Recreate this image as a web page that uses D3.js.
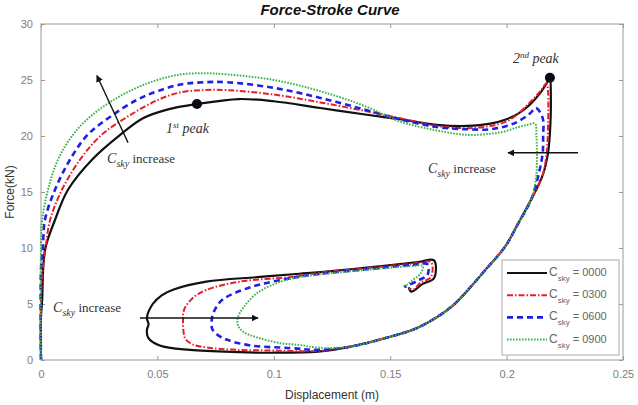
<!DOCTYPE html>
<html>
<head>
<meta charset="utf-8">
<script src="https://cdn.jsdelivr.net/npm/d3@7"></script>
<style>
  body { margin: 0; background: #fff; }
  svg { display: block; }
</style>
</head>
<body>
<div id="chart"></div>
<script>
// series: [displacement (m), force (kN)]
const descending = [
  [0.2105, 14.3], [0.2050, 12.2], [0.1993, 10.1], [0.1907, 8.0], [0.1834, 6.25],
  [0.176, 4.7], [0.162, 2.9], [0.148, 1.96], [0.133, 1.2]
];

const curveBlack = [
  [0, 0], [0, 3.8], [0.0005, 5.4], [0.0017, 9.8], [0.006, 12.5], [0.0116, 15.2],
  [0.022, 17.9], [0.034, 20.1], [0.044, 21.6], [0.055, 22.4], [0.067, 22.85],
  [0.085, 23.3], [0.1, 23.1], [0.12, 22.5], [0.14, 21.9], [0.154, 21.5],
  [0.17, 21.0], [0.183, 20.9], [0.193, 21.1], [0.2, 21.5], [0.205, 22.0],
  [0.21, 22.8], [0.2143, 23.8], [0.2175, 24.8], [0.2186, 25.2], [0.219, 23.5],
  [0.2188, 21.0], [0.2178, 18.5], [0.2155, 16.5],
  ...descending,
  [0.119, 0.75], [0.1, 0.65], [0.085, 0.7], [0.064, 0.9], [0.051, 1.3],
  [0.046, 2.0], [0.0455, 2.7], [0.0462, 3.2], [0.0455, 3.75], [0.048, 5.0],
  [0.052, 5.8], [0.057, 6.3], [0.071, 7.0], [0.093, 7.4], [0.111, 7.7],
  [0.12, 7.85], [0.14, 8.25], [0.162, 8.75], [0.1688, 8.9], [0.1688, 7.3],
  [0.164, 6.8], [0.159, 6.1], [0.158, 6.5]
];

const curveRed = [
  [0, 0], [0, 5.5], [0.0008, 8], [0.002, 10], [0.0039, 12.5], [0.009, 15.2],
  [0.0168, 17.9], [0.026, 20.1], [0.037, 21.7], [0.05, 23.2], [0.06, 23.9],
  [0.07, 24.1], [0.08, 24.1], [0.1, 23.7], [0.12, 23.0], [0.14, 22.2],
  [0.154, 21.6], [0.17, 20.9], [0.183, 20.7], [0.193, 20.9], [0.2, 21.3],
  [0.205, 22.0], [0.21, 23.0], [0.2145, 24.0], [0.2172, 24.7], [0.2178, 24.0],
  [0.2178, 21.0], [0.2172, 18.5], [0.2155, 16.5],
  ...descending,
  [0.119, 0.8], [0.1, 0.85], [0.085, 0.9], [0.072, 1.1], [0.065, 1.4],
  [0.062, 1.9], [0.0613, 2.4], [0.061, 3.5], [0.0615, 4.5], [0.065, 5.5],
  [0.071, 6.25], [0.0855, 7.0], [0.107, 7.4], [0.12, 7.8], [0.14, 8.2],
  [0.162, 8.65], [0.1675, 8.75], [0.1675, 7.4], [0.163, 6.9], [0.16, 6.3],
  [0.158, 6.4]
];

const curveBlue = [
  [0, 0], [0, 8], [0.0008, 10], [0.0017, 12.5], [0.006, 15.2], [0.0125, 17.9],
  [0.02, 20.1], [0.0296, 21.7], [0.041, 23.2], [0.05, 24.0], [0.06, 24.6],
  [0.07, 24.8], [0.08, 24.8], [0.1, 24.3], [0.12, 23.4], [0.14, 22.3],
  [0.154, 21.5], [0.17, 20.8], [0.183, 20.6], [0.193, 20.6], [0.2, 20.9],
  [0.205, 21.3], [0.21, 22.0], [0.2126, 22.5], [0.2155, 21.6], [0.2157, 20.0],
  [0.2155, 18.5], [0.214, 16.8],
  ...descending,
  [0.119, 0.9], [0.107, 1.07], [0.09, 1.3], [0.08, 1.8], [0.0755, 2.3],
  [0.0735, 2.8], [0.0735, 3.8], [0.075, 4.6], [0.078, 5.4], [0.09, 6.5],
  [0.107, 7.3], [0.12, 7.7], [0.14, 8.1], [0.16, 8.5], [0.166, 8.55],
  [0.166, 7.6], [0.162, 7.1], [0.157, 6.6], [0.156, 6.5]
];

const curveGreen = [
  [0, 0], [0, 10.5], [0.0005, 12.5], [0.003, 15.2], [0.0073, 17.9],
  [0.0137, 20.1], [0.021, 21.7], [0.031, 23.2], [0.041, 24.3], [0.05, 25.0],
  [0.06, 25.5], [0.07, 25.6], [0.08, 25.5], [0.1, 25.0], [0.12, 24.0],
  [0.14, 22.6], [0.154, 21.3], [0.17, 20.5], [0.183, 20.1], [0.193, 20.2],
  [0.199, 20.4], [0.205, 20.8], [0.209, 21.0], [0.2122, 21.1], [0.2128, 20.0],
  [0.213, 17.5], [0.2125, 16.0],
  ...descending,
  [0.119, 1.1], [0.111, 1.34], [0.103, 1.5], [0.093, 2.0], [0.087, 2.5],
  [0.0846, 3.1], [0.0846, 3.8], [0.087, 4.7], [0.093, 6.0], [0.103, 7.0],
  [0.111, 7.4], [0.12, 7.65], [0.14, 8.05], [0.16, 8.4], [0.164, 8.4],
  [0.163, 7.7], [0.16, 7.2], [0.157, 6.7], [0.155, 6.6]
];

const seriesCodes = ["0000", "0300", "0600", "0900"];
const seriesData = [curveBlack, curveRed, curveBlue, curveGreen];

const xTicks = [0, 0.05, 0.1, 0.15, 0.2, 0.25];
const yTicks = [0, 5, 10, 15, 20, 25, 30];

// peaks and annotations in data units
const peakPoints = [[0.067, 22.85, "1", "st"], [0.2186, 25.2, "2", "nd"]];
const peakLabels = [[0.0537, 20.3], [0.2027, 26.5]];
const increaseLabels = [[0.0284, 17.6], [0.1662, 16.7], [0.0052, 4.3]];
const increaseArrows = [
  [[0.0374, 19.4], [0.024, 25.4]],
  [[0.2307, 18.5], [0.2006, 18.5]],
  [[0.0425, 3.75], [0.0932, 3.75]]
];

const styles = [
  { color: "#111111", width: 2.2, dash: null },
  { color: "#e3202a", width: 2, dash: "6,2,1.5,2" },
  { color: "#1f1fe6", width: 2.6, dash: "6,4" },
  { color: "#3bb24a", width: 2, dash: "1.6,1.4" }
];

const W = 638, H = 405;
const margin = { top: 24, right: 15, bottom: 45, left: 41 };

const svg = d3.select("#chart").append("svg")
  .attr("width", W).attr("height", H);

const x = d3.scaleLinear().domain([0, 0.25]).range([margin.left, W - margin.right]);
const y = d3.scaleLinear().domain([0, 30]).range([H - margin.bottom, margin.top]);

const tickFont = "'Liberation Sans', Arial, sans-serif";
const serif = "'Liberation Serif', 'DejaVu Serif', serif";

svg.append("defs").append("marker")
  .attr("id", "arrow")
  .attr("viewBox", "0 0 10 10")
  .attr("refX", 9).attr("refY", 5)
  .attr("markerWidth", 7).attr("markerHeight", 7)
  .attr("markerUnits", "userSpaceOnUse")
  .attr("orient", "auto")
  .append("path").attr("d", "M0,0L10,5L0,10z").attr("fill", "#111");

// axes
function styleAxis(g, labels) {
  g.select(".domain").remove();
  g.selectAll(".tick line").attr("stroke", "#999");
  g.selectAll(".tick text")
    .attr("fill", labels ? "#808080" : "none")
    .style("font-family", tickFont)
    .style("font-size", "11px");
}

svg.append("g")
  .attr("transform", `translate(0,${y(0)})`)
  .call(d3.axisBottom(x).tickValues(xTicks).tickSize(-4).tickPadding(10)
    .tickFormat(d3.format("")))
  .call((g) => styleAxis(g, true));

svg.append("g")
  .attr("transform", `translate(0,${y(30)})`)
  .call(d3.axisTop(x).tickValues(xTicks).tickSize(-4).tickFormat(""))
  .call((g) => styleAxis(g, false));

svg.append("g")
  .attr("transform", `translate(${x(0)},0)`)
  .call(d3.axisLeft(y).tickValues(yTicks).tickSize(-4).tickPadding(8))
  .call((g) => styleAxis(g, true));

svg.append("g")
  .attr("transform", `translate(${x(0.25)},0)`)
  .call(d3.axisRight(y).tickValues(yTicks).tickSize(-4).tickFormat(""))
  .call((g) => styleAxis(g, false));

svg.append("rect")
  .attr("x", x(0)).attr("y", y(30))
  .attr("width", x(0.25) - x(0)).attr("height", y(0) - y(30))
  .attr("fill", "none").attr("stroke", "#999").attr("stroke-width", 1);

// curves
const line = d3.line()
  .x((d) => x(d[0]))
  .y((d) => y(d[1]))
  .curve(d3.curveCatmullRom.alpha(0.5));

svg.append("g").selectAll("path")
  .data(seriesData)
  .join("path")
  .attr("d", line)
  .attr("fill", "none")
  .attr("stroke", (d, i) => styles[i].color)
  .attr("stroke-width", (d, i) => styles[i].width)
  .attr("stroke-dasharray", (d, i) => styles[i].dash)
  .attr("stroke-linejoin", "round");

// peaks
svg.append("g").selectAll("circle")
  .data(peakPoints)
  .join("circle")
  .attr("cx", (d) => x(d[0]))
  .attr("cy", (d) => y(d[1]))
  .attr("r", 5)
  .attr("fill", "#0a0a14");

svg.append("g").selectAll("text")
  .data(peakLabels)
  .join("text")
  .attr("x", (d) => x(d[0]))
  .attr("y", (d) => y(d[1]))
  .style("font-family", serif)
  .style("font-style", "italic")
  .style("font-size", "14px")
  .attr("fill", "#333")
  .each(function (d, i) {
    const t = d3.select(this);
    t.append("tspan").text(peakPoints[i][2]);
    t.append("tspan").attr("dy", -5).style("font-size", "9px").text(peakPoints[i][3]);
    t.append("tspan").attr("dy", 5).text(" peak");
  });

// C_sky increase labels + arrows
svg.append("g").selectAll("line")
  .data(increaseArrows)
  .join("line")
  .attr("x1", (d) => x(d[0][0])).attr("y1", (d) => y(d[0][1]))
  .attr("x2", (d) => x(d[1][0])).attr("y2", (d) => y(d[1][1]))
  .attr("stroke", "#111").attr("stroke-width", 1.4)
  .attr("marker-end", "url(#arrow)");

svg.append("g").selectAll("text")
  .data(increaseLabels)
  .join("text")
  .attr("x", (d) => x(d[0]))
  .attr("y", (d) => y(d[1]))
  .style("font-family", serif)
  .style("font-size", "13px")
  .attr("fill", "#333")
  .each(function () {
    const t = d3.select(this);
    t.append("tspan").style("font-style", "italic").style("font-size", "14px").text("C");
    t.append("tspan").attr("dy", 4).style("font-style", "italic").style("font-size", "10px").text("sky");
    t.append("tspan").attr("dy", -4).text(" increase");
  });

// title and axis labels
svg.append("text")
  .attr("x", 330).attr("y", 15)
  .attr("text-anchor", "middle")
  .style("font-family", tickFont)
  .style("font-weight", "bold")
  .style("font-style", "italic")
  .style("font-size", "15px")
  .attr("fill", "#111")
  .text("Force-Stroke Curve");

svg.append("text")
  .attr("transform", `translate(14,${(y(0) + y(30)) / 2}) rotate(-90)`)
  .attr("text-anchor", "middle")
  .style("font-family", tickFont)
  .style("font-size", "12px")
  .attr("fill", "#333")
  .text("Force(kN)");

svg.append("text")
  .attr("x", (x(0) + x(0.25)) / 2).attr("y", 399)
  .attr("text-anchor", "middle")
  .style("font-family", tickFont)
  .style("font-size", "12px")
  .attr("fill", "#333")
  .text("Displacement (m)");

// legend
const legend = svg.append("g").attr("transform", "translate(502,260)");
legend.append("rect")
  .attr("width", 117).attr("height", 95)
  .attr("fill", "#fff").attr("stroke", "#aaa");

const items = legend.selectAll("g.item")
  .data(seriesCodes)
  .join("g")
  .attr("class", "item")
  .attr("transform", (d, i) => `translate(0,${13 + i * 22.2})`);

items.append("line")
  .attr("x1", 5).attr("x2", 45)
  .attr("stroke", (d, i) => styles[i].color)
  .attr("stroke-width", (d, i) => styles[i].width)
  .attr("stroke-dasharray", (d, i) => styles[i].dash);

items.append("text")
  .attr("x", 47).attr("y", 3)
  .style("font-family", tickFont)
  .style("font-size", "11px")
  .attr("fill", "#666")
  .each(function (d) {
    const t = d3.select(this);
    t.append("tspan").style("font-size", "12px").text("C");
    t.append("tspan").attr("dy", 5).style("font-size", "8px").text("sky");
    t.append("tspan").attr("dy", -5).text(" = " + d);
  });
</script>
</body>
</html>
